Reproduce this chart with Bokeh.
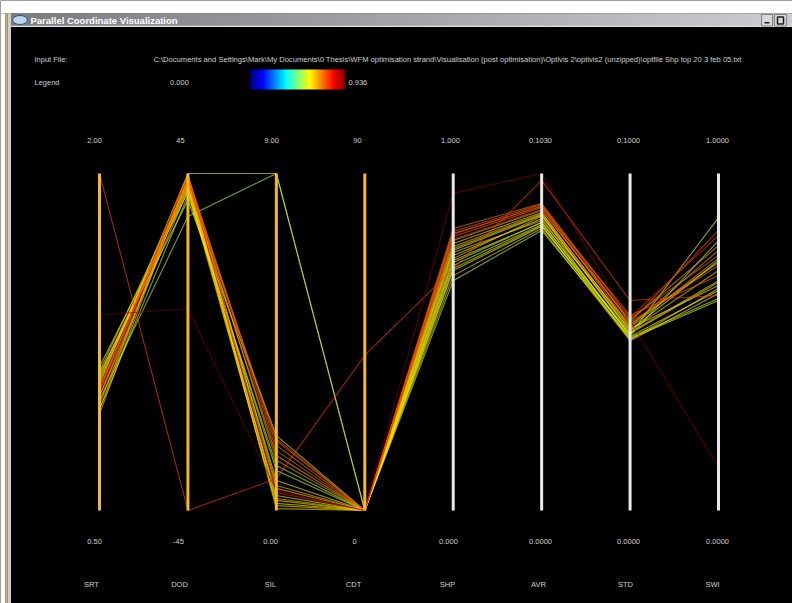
import numpy as np
from bokeh.plotting import figure
from bokeh.models import ColumnDataSource, Range1d, LinearColorMapper
from bokeh.transform import linear_cmap
from bokeh.core.properties import value
from bokeh.embed import file_html
from bokeh.resources import INLINE

# ---------------- data ----------------
DIMS = ["SRT", "DOD", "SIL", "CDT", "SHP", "AVR", "STD", "SWI"]
DIM_MIN = [0.50, -45.0, 0.00, 0.0, 0.000, 0.0000, 0.0000, 0.0000]
DIM_MAX = [2.00, 45.0, 9.00, 90.0, 1.000, 0.1030, 0.1000, 1.0000]
TOP_LABELS = ["2.00", "45", "9.00", "90", "1.000", "0.1030", "0.1000", "1.0000"]
BOTTOM_LABELS = ["0.50", "-45", "0.00", "0", "0.000", "0.0000", "0.0000", "0.0000"]

SRT = [1.37, 2.00, 1.06, 0.99, 1.01, 1.03, 0.97, 1.00, 1.12, 1.10, 1.08, 0.95,
       1.14, 1.11, 0.93, 1.04, 1.07, 1.03, 1.09, 0.95, 0.98, 1.01, 1.05]
DOD = [8.9, -45.0, 45.0, 33.5, 44.5, 44.2, 43.7, 43.1, 42.6, 41.8, 41.0, 44.7,
       39.9, 37.8, 43.9, 43.4, 42.3, 44.2, 41.5, 39.1, 42.9, 40.5, 42.1]
SIL = [0.53, 0.85, 9.00, 9.00, 1.74, 1.60, 1.34, 1.87, 0.27, 0.13, 0.40, 0.67,
       1.07, 2.00, 0.05, 0.32, 1.47, 0.48, 0.80, 1.20, 0.59, 0.19, 1.92]
CDT = [0.0, 41.4, 0.0, 0.0, 0.0, 0.0, 0.0, 0.0, 0.0, 0.0, 0.0, 0.0,
       0.0, 0.0, 0.0, 0.0, 0.0, 0.0, 0.0, 0.0, 0.0, 0.0, 0.0]
SHP = [0.941, 0.718, 0.772, 0.736, 0.837, 0.828, 0.822, 0.813, 0.792, 0.777, 0.757, 0.748,
       0.727, 0.712, 0.697, 0.766, 0.801, 0.819, 0.742, 0.682, 0.783, 0.718, 0.804]
AVR = [0.1030, 0.1009, 0.0902, 0.0880, 0.0938, 0.0935, 0.0929, 0.0926, 0.0911, 0.0905, 0.0892, 0.0899,
       0.0874, 0.0868, 0.0862, 0.0886, 0.0917, 0.0932, 0.0880, 0.0856, 0.0908, 0.0871, 0.0920]
STD = [0.0564, 0.0623, 0.0534, 0.0519, 0.0570, 0.0558, 0.0546, 0.0579, 0.0540, 0.0528, 0.0516, 0.0534,
       0.0510, 0.0522, 0.0504, 0.0552, 0.0564, 0.0573, 0.0525, 0.0513, 0.0543, 0.0507, 0.0558]
SWI = [0.128, 0.638, 0.742, 0.801, 0.757, 0.727, 0.772, 0.697, 0.668, 0.682, 0.653, 0.712,
       0.623, 0.869, 0.644, 0.736, 0.786, 0.816, 0.677, 0.629, 0.748, 0.659, 0.831]
SCORE = [0.936, 0.76, 0.55, 0.52, 0.70, 0.72, 0.68, 0.73, 0.60, 0.62, 0.58, 0.63,
         0.55, 0.56, 0.61, 0.64, 0.66, 0.78, 0.59, 0.54, 0.65, 0.60, 0.74]
SCORE_MIN, SCORE_MAX = 0.000, 0.936

INPUT_FILE = ("C:\\Documents and Settings\\Mark\\My Documents\\0 Thesis\\WFM optimisation strand\\"
              "Visualisation (post optimisation)\\Optivis 2\\optivis2 (unzipped)\\optfile Shp top 20 3 feb 05.txt")
WINDOW_TITLE = "Parallel Coordinate Visualization"

# ---------------- layout helpers (reference pixel -> plot coords) ----------------
AX0_PX, AX_STEP_PX = 99.0, (718.0 - 99.0) / 7.0
TOP_PX, BOT_PX = 173.0, 510.0


def X(px):
    return (px - AX0_PX) / AX_STEP_PX


def Y(py):
    return (BOT_PX - py) / (BOT_PX - TOP_PX)


def jet(t):
    r = np.clip(1.5 - abs(4 * t - 3), 0, 1)
    g = np.clip(1.5 - abs(4 * t - 2), 0, 1)
    b = np.clip(1.5 - abs(4 * t - 1), 0, 1)
    return "#%02x%02x%02x" % (int(r * 255), int(g * 255), int(b * 255))


JET = [jet(i / 255.0) for i in range(256)]

W, H = 792, 603
p = figure(width=W, height=H, output_backend="svg", toolbar_location=None,
           x_range=Range1d(X(0), X(W)), y_range=Range1d(Y(H), Y(0)),
           x_axis_location=None, y_axis_location=None, title=None, min_border=0,
           background_fill_color="black", border_fill_color="black",
           outline_line_color=None)
p.grid.visible = False

# window chrome
p.quad(left=X(0), right=X(W), top=Y(0), bottom=Y(13), fill_color="white", line_color=None)
p.quad(left=X(0), right=X(5), top=Y(13), bottom=Y(H), fill_color="white", line_color=None)
p.quad(left=X(5), right=X(7), top=Y(13), bottom=Y(H), fill_color="#c8b070", line_color=None)
p.quad(left=X(7), right=X(10.5), top=Y(13), bottom=Y(H), fill_color="#d0d0d0", line_color=None)
ncol = 200
grad = np.zeros((1, ncol), dtype=np.uint32)
gv = grad.view(dtype=np.uint8).reshape((1, ncol, 4))
for i in range(ncol):
    c = int(125 + 80 * i / (ncol - 1))
    gv[0, i] = [c, c, min(c + 4, 255), 255]
p.image_rgba(image=[grad], x=X(10.5), y=Y(26), dw=X(W) - X(10.5), dh=Y(13) - Y(26))
p.quad(left=X(10.5), right=X(W), top=Y(25.2), bottom=Y(26.5), fill_color="#e0e0e0", line_color=None)
p.ellipse(x=X(19.5), y=Y(19.5), width=X(27) - X(12), height=Y(15) - Y(24),
          fill_color="#b8d4ee", line_color="#305070", line_width=1)
p.text(x=[X(30)], y=[Y(19.5)], text=[WINDOW_TITLE], text_color="white",
       text_font=value("Liberation Sans"), text_font_style="bold", text_font_size="9.5px",
       text_baseline="middle", text_align="left")
p.quad(left=[X(761), X(774)], right=[X(772), X(786)], top=Y(14), bottom=Y(25.5),
       fill_color="#d8d8d8", line_color="#808080")
p.quad(left=X(764), right=X(769), top=Y(21.5), bottom=Y(23), fill_color="#202020", line_color=None)
p.quad(left=X(777), right=X(783), top=Y(16.5), bottom=Y(23.5), fill_color=None, line_color="#202020",
       line_width=1.5)

LBL = "#d0d0d0"
FONT = value("Liberation Sans")

# header texts
p.text(x=[X(34), X(34)], y=[Y(58.5), Y(82)], text=["Input File:", "Legend"], text_color=LBL,
       text_font=FONT, text_font_size="7.5px", text_baseline="middle", text_align="left")
p.text(x=[X(447)], y=[Y(58.5)], text=[INPUT_FILE], text_color=LBL,
       text_font=FONT, text_font_size="7.6px", text_baseline="middle", text_align="center")
p.text(x=[X(179)], y=[Y(82)], text=["%.3f" % SCORE_MIN], text_color=LBL,
       text_font=FONT, text_font_size="7.5px", text_baseline="middle", text_align="center")
p.text(x=[X(348)], y=[Y(82)], text=["%.3f" % SCORE_MAX], text_color=LBL,
       text_font=FONT, text_font_size="7.5px", text_baseline="middle", text_align="left")

mapper = LinearColorMapper(palette=JET, low=SCORE_MIN, high=SCORE_MAX)
bar = np.linspace(SCORE_MIN, SCORE_MAX, 256).reshape(1, -1)
p.image(image=[bar], x=X(250), y=Y(89), dw=X(345) - X(250), dh=Y(69) - Y(89), color_mapper=mapper)

# ---------------- parallel coordinate lines ----------------
cols = [SRT, DOD, SIL, CDT, SHP, AVR, STD, SWI]
n = len(SCORE)
order = sorted(range(n), key=lambda k: SCORE[k])
xs, ys, sc = [], [], []
for k in order:
    xs.append(list(range(len(DIMS))))
    ys.append([(cols[d][k] - DIM_MIN[d]) / (DIM_MAX[d] - DIM_MIN[d]) for d in range(len(DIMS))])
    sc.append(SCORE[k])
src = ColumnDataSource(dict(xs=xs, ys=ys, score=sc))
p.multi_line(xs="xs", ys="ys", source=src, line_width=1.1, line_alpha=0.62,
             line_color=linear_cmap("score", JET, SCORE_MIN, SCORE_MAX))

# axes
axis_colors = ["#f2b92c"] * 4 + ["#e8e8e8"] * 4
idx = list(range(len(DIMS)))
p.segment(x0=idx, x1=idx, y0=[0] * 8, y1=[1] * 8, line_color=axis_colors, line_width=3)

TOP_X = [94, 180, 271, 357, 450, 540, 628, 717]
BOT_X = [94, 178, 270, 354, 448, 540, 628, 717]
NAME_X = [91, 179, 270, 353, 447, 538, 625, 712]
p.text(x=[X(v) for v in TOP_X], y=[Y(140)] * 8, text=TOP_LABELS, text_color=LBL, text_font=FONT,
       text_font_size="7.5px", text_baseline="middle", text_align="center")
p.text(x=[X(v) for v in BOT_X], y=[Y(541)] * 8, text=BOTTOM_LABELS, text_color=LBL, text_font=FONT,
       text_font_size="7.5px", text_baseline="middle", text_align="center")
p.text(x=[X(v) for v in NAME_X], y=[Y(584)] * 8, text=DIMS, text_color=LBL, text_font=FONT,
       text_font_size="7.5px", text_baseline="middle", text_align="center")

open("out.html", "w").write(file_html(p, INLINE))
